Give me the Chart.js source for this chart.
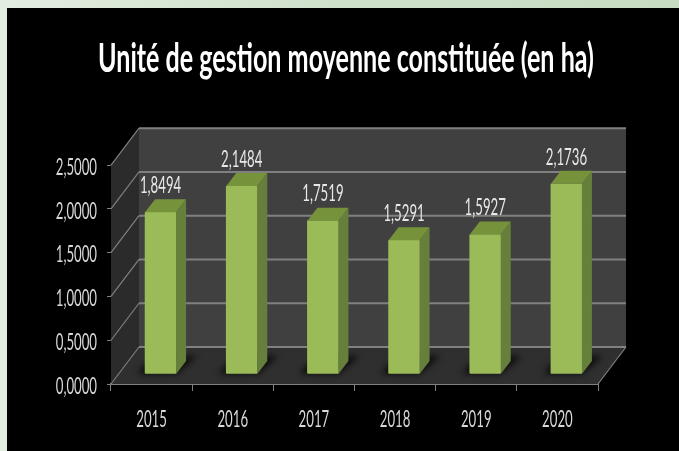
<!DOCTYPE html>
<html><head><meta charset="utf-8">
<style>html,body{margin:0;padding:0;background:#000;overflow:hidden}canvas{display:block;filter:blur(.35px)}</style>
<script src="https://cdn.jsdelivr.net/npm/chart.js@4"></script></head>
<body><div style="width:679px;height:451px"><canvas id="c" width="679" height="451"></canvas></div>
<script>
const titleText = 'Unité de gestion moyenne constituée (en ha)';
const categories = ['2015','2016','2017','2018','2019','2020'];
const values = [1.8494,2.1484,1.7519,1.5291,1.5927,2.1736];
const yTicks = [0,0.5,1,1.5,2,2.5];
const fr = v => v.toFixed(4).replace('.',',');
const FONT = 'Lato,"Liberation Sans",sans-serif';
const TITLE_W=496, LABEL_SX=0.55;
const DX=28, DY=-37, BX=9, BY=-10, TX=10, TY=-13;

const canvas=document.getElementById('c');
const rawCtx=canvas.getContext('2d');
const rawFill=rawCtx.fillText.bind(rawCtx);
// the source image has horizontally squeezed (condensed) lettering
rawCtx.fillText=function(t,x,y){
  const isTitle=rawCtx.font.includes('41px');
  const sx=isTitle?TITLE_W/rawCtx.measureText(t).width:LABEL_SX;
  rawCtx.save();rawCtx.translate(x,y);rawCtx.scale(sx,1);rawFill(t,0,0);rawCtx.restore();
};

const scene = {
  id:'scene',
  afterLayout(ch){ch.titleBlock.left+=94;},
  beforeDraw(ch){
    const c=ch.ctx;
    const g=c.createLinearGradient(0,0,679,0);
    g.addColorStop(0,'#e2ede0');g.addColorStop(.5,'#cfe0cb');g.addColorStop(1,'#c6dbc2');
    c.fillStyle=g;c.fillRect(0,0,679,451);
    c.fillStyle='#000';c.fillRect(7,8,672,443);
  },
  beforeDatasetsDraw(ch){
    const c=ch.ctx,a=ch.chartArea,y=ch.scales.y;
    const y0=y.getPixelForValue(0),yT=y.getPixelForValue(2.5);
    const poly=(pts,col)=>{c.beginPath();pts.forEach((p,i)=>i?c.lineTo(p[0],p[1]):c.moveTo(p[0],p[1]));c.closePath();c.fillStyle=col;c.fill();};
    poly([[a.left+DX,yT+DY],[a.right+DX,yT+DY],[a.right+DX,y0+DY],[a.left+DX,y0+DY]],'#404040');
    poly([[a.left,yT],[a.left+DX,yT+DY],[a.left+DX,y0+DY],[a.left,y0]],'#2b2b2b');
    poly([[a.left,y0],[a.left+DX,y0+DY],[a.right+DX,y0+DY],[a.right,y0]],'#2f2f2f');
    yTicks.forEach(v=>{
      const p=y.getPixelForValue(v);
      c.strokeStyle='#808080';
      c.lineWidth=1.2;c.beginPath();c.moveTo(a.left,p);c.lineTo(a.left+DX,p+DY);c.stroke();
      c.lineWidth=2;c.beginPath();c.moveTo(a.left+DX,p+DY);c.lineTo(a.right+DX,p+DY);c.stroke();
    });
    c.lineWidth=1.2;c.beginPath();c.moveTo(a.right,y0);c.lineTo(a.right+DX,y0+DY);c.stroke();
    const m=ch.getDatasetMeta(0);
    c.save();c.filter='blur(3px)';c.fillStyle='rgba(0,0,0,.75)';
    m.data.forEach(b=>{
      const l=b.x-b.width/2+BX,r=b.x+b.width/2+BX,q=y0+BY;
      c.beginPath();c.moveTo(l-8,q);c.lineTo(r,q);c.lineTo(r+21,q-18);c.lineTo(l+8,q-18);c.closePath();c.fill();
    });
    c.restore();
  },
  beforeDatasetDraw(ch){ch.ctx.save();ch.ctx.translate(BX,BY);},
  afterDatasetDraw(ch){
    const c=ch.ctx;c.restore();
    const y0=ch.scales.y.getPixelForValue(0)+BY;
    ch.getDatasetMeta(0).data.forEach((b,i)=>{
      const l=b.x-b.width/2+BX,r=b.x+b.width/2+BX,t=b.y+BY;
      c.fillStyle='#66803c';c.beginPath();c.moveTo(r,t);c.lineTo(r+TX,t+TY);c.lineTo(r+TX,y0+TY);c.lineTo(r,y0);c.closePath();c.fill();
      c.fillStyle='#76933c';c.beginPath();c.moveTo(l,t);c.lineTo(r,t);c.lineTo(r+TX,t+TY);c.lineTo(l+TX,t+TY);c.closePath();c.fill();
      c.fillStyle='#e8e8e8';c.font='24px '+FONT;c.textAlign='center';c.textBaseline='middle';
      c.fillText(fr(values[i]),b.x+BX,t-27);
    });
  }
};

new Chart(canvas,{
  type:'bar',
  data:{labels:categories,datasets:[{data:values,backgroundColor:'#9bbb59',barThickness:31,borderRadius:1,borderSkipped:false}]},
  plugins:[scene],
  options:{
    responsive:false,animation:false,clip:false,
    layout:{autoPadding:false,padding:{left:0,right:81,top:0,bottom:0}},
    plugins:{
      legend:{display:false},tooltip:{enabled:false},
      title:{display:true,text:titleText,color:'#fff',
        font:{family:FONT,size:41,weight:'bold',lineHeight:1.2},padding:{top:34,bottom:82}}
    },
    scales:{
      x:{afterFit(s){s.height=67;},
        grid:{offset:true,drawOnChartArea:false,tickLength:7,color:'#808080',tickColor:'#808080'},
        border:{color:'#808080',width:2},
        ticks:{color:'#d9d9d9',padding:14,maxRotation:0,autoSkip:false,font:{family:FONT,size:24}}},
      y:{min:0,max:2.5,afterFit(s){s.width=111;},
        afterBuildTicks(s){s.ticks=yTicks.map(v=>({value:v}));},
        grid:{drawOnChartArea:false,tickLength:4,color:'#808080',tickColor:'#808080'},
        border:{display:false},
        ticks:{color:'#d9d9d9',padding:10,labelOffset:2,font:{family:FONT,size:24},callback:v=>fr(v)}}
    }
  }
});
</script></body></html>
